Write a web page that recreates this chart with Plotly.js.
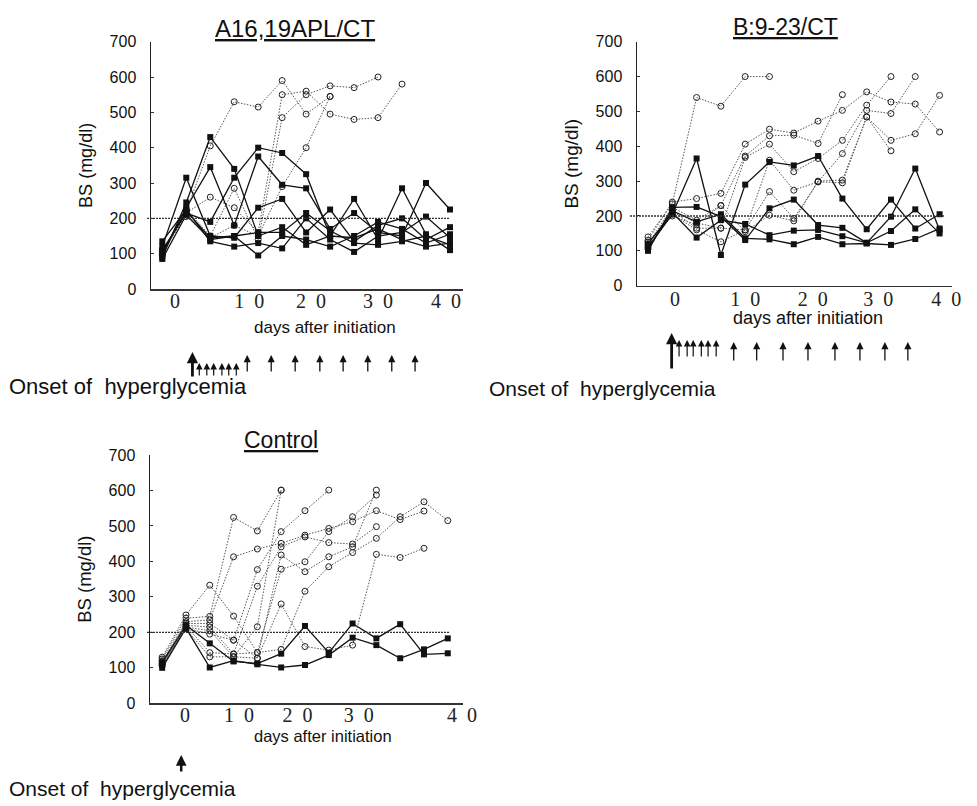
<!DOCTYPE html>
<html><head><meta charset="utf-8">
<script src="https://cdn.plot.ly/plotly-3.0.1.min.js"></script>
<style>html,body{margin:0;padding:0;background:#fff}#chart{width:977px;height:806px}</style>
</head><body><div id="chart"></div>
<script>
// ---------- data ----------
const daysA = [-2, 1.5, 5, 8.5, 12, 15.5, 19, 22.5, 26, 29.5, 33, 36.5, 40];
const daysB = [-4, -0.4, 3.2, 6.8, 10.4, 14, 17.6, 21.2, 24.8, 28.4, 32, 35.6, 39.2];
const daysC = [-3.5, 0, 3.5, 7, 10.5, 14, 17.5, 21, 24.5, 28, 31.5, 35, 38.5];

// A16,19APL/CT : non-diabetic (filled squares)
const sqA1 = [90, 245, 430, 340, 150, 175, 125, 150, 145, 170, 140, 120, 130];
const sqA2 = [100, 230, 345, 180, 375, 295, 285, 170, 215, 160, 150, 300, 225];
const sqA3 = [110, 215, 190, 315, 400, 385, 325, 150, 255, 140, 285, 155, 110];
const sqA4 = [120, 315, 150, 145, 230, 255, 160, 225, 135, 180, 200, 140, 175];
const sqA5 = [135, 225, 135, 120, 130, 115, 200, 140, 105, 150, 160, 205, 145];
const sqA6 = [85, 210, 140, 150, 95, 150, 140, 120, 150, 190, 170, 130, 155];
const sqA7 = [105, 220, 145, 150, 160, 160, 215, 165, 130, 125, 135, 150, 125];
// A16,19APL/CT : diabetic (open circles)
const ciA1 = [105, 220, 405, 530, 515, 590, 495, 545, null, null, null, null, null];
const ciA2 = [100, 215, 260, 230, 160, 550, 560, 495, 480, 485, 580, null, null];
const ciA3 = [95, 225, 150, 285, 140, 485, 550, 575, 570, 600, null, null, null];
const ciA4 = [110, 205, 145, 180, 150, 290, 400, 545, null, null, null, null, null];

// B:9-23/CT
const sqB1 = [110, 205, 365, 88, 290, 355, 345, 372, 250, 162, 247, 164, 205];
const sqB2 = [100, 225, 226, 198, 131, 222, 247, 174, 166, 123, 198, 336, 160];
const sqB3 = [120, 210, 138, 188, 177, 145, 158, 160, 142, 123, 157, 219, 150];
const sqB4 = [105, 215, 183, 205, 136, 133, 119, 140, 119, 121, 117, 134, 164];
const ciB1 = [140, 235, 540, 515, 600, 600, null, null, null, null, null, null, null];
const ciB2 = [130, 240, 250, 265, 406, 449, 438, 472, 503, 556, 527, 521, 441];
const ciB3 = [120, 225, 188, 230, 372, 430, 432, 408, 548, null, null, null, null];
const ciB4 = [115, 215, 165, 165, 368, 406, 327, 365, 417, 518, 600, null, null];
const ciB5 = [110, 205, 160, 126, 160, 360, 274, 298, 379, 503, 494, 600, null];
const ciB6 = [125, 200, 175, 230, 155, 202, 186, 300, 303, 484, 417, 436, 546];
const ciB7 = [105, 215, 180, 165, 160, 270, 193, 298, 295, 484, 387, null, null];

// Control
const sqC1 = [100, 212, 101, 120, 110, 101, 108, 136, 185, 164, 127, 152, 183];
const sqC2 = [115, 220, 169, 118, 112, 140, 218, 143, 225, 183, 223, 138, 141];
const ciC1 = [130, 249, 333, 246, 143, 152, 316, 385, 425, 465, 526, 568, 515];
const ciC2 = [125, 240, 245, 524, 486, 601, null, null, null, null, null, null, null];
const ciC3 = [120, 230, 235, 413, 435, 451, 474, 493, 512, 543, 518, 542, null];
const ciC4 = [115, 225, 225, 178, 377, 484, 543, 601, null, null, null, null, null];
const ciC5 = [110, 220, 215, 139, 330, 441, 469, 453, 449, 498, null, null, null];
const ciC6 = [118, 215, 205, 131, 216, 601, null, null, null, null, null, null, null];
const ciC7 = [112, 212, 195, 178, 127, 418, 371, 413, 441, 601, null, null, null];
const ciC8 = [108, 218, 143, 139, 143, 378, 399, 484, 526, 587, null, null, null];
const ciC9 = [105, 210, 131, 131, 127, 280, 160, 150, 164, 420, 411, 437, null];

// treatment / onset arrows (days)
const onsetA = 2.4;
const injA = [3.4, 4.5, 5.5, 6.7, 7.7, 8.8, 10.4, 13.9, 17.4, 21, 24.4, 28, 31.5, 34.9];
const onsetB = -0.5;
const injB = [0.6, 1.8, 2.7, 3.9, 4.9, 6.1, 8.7, 12.1, 16, 19.7, 23.7, 27.4, 31.1, 34.5];
const onsetC = -0.7;

// tick labels
const yTicks = [0, 100, 200, 300, 400, 500, 600, 700];
const xTickText = ['0', '1\u00a0\u00a00', '2\u00a0\u00a00', '3\u00a0\u00a00', '4\u00a0\u00a00'];
const threshold = 200;

// ---------- layout helpers ----------
const W = 977, H = 806;
const X = p => p / W;
const Y = p => 1 - p / H;

const tickPosA = [-0.15, 10.7, 19.7, 29.5, 39.4];
const tickPosB = [0, 10.4, 20.4, 30.1, 40.2];
const tickPosC = [-0.15, 7.8, 16.4, 25.4, 40.6];

function sq(days, vals, xa, ya) {
  return {type: 'scatter', mode: 'lines+markers', x: days, y: vals, xaxis: xa, yaxis: ya,
    line: {color: '#111', width: 1.3}, marker: {symbol: 'square', size: 6, color: '#111'},
    cliponaxis: false, hoverinfo: 'skip', showlegend: false};
}
function ci(days, vals, xa, ya) {
  return {type: 'scatter', mode: 'lines+markers', x: days, y: vals, xaxis: xa, yaxis: ya,
    line: {color: '#555', width: 1, dash: '1.5px,1.5px'},
    marker: {symbol: 'circle-open', size: 6, color: '#222', line: {width: 1, color: '#222'}},
    cliponaxis: false, hoverinfo: 'skip', showlegend: false};
}

const traces = [];
[ciA1, ciA2, ciA3, ciA4].forEach(s => traces.push(ci(daysA, s, 'x', 'y')));
[sqA1, sqA2, sqA3, sqA4, sqA5, sqA6, sqA7].forEach(s => traces.push(sq(daysA, s, 'x', 'y')));
[ciB1, ciB2, ciB3, ciB4, ciB5, ciB6, ciB7].forEach(s => traces.push(ci(daysB, s, 'x2', 'y2')));
[sqB1, sqB2, sqB3, sqB4].forEach(s => traces.push(sq(daysB, s, 'x2', 'y2')));
[ciC1, ciC2, ciC3, ciC4, ciC5, ciC6, ciC7, ciC8, ciC9].forEach(s => traces.push(ci(daysC, s, 'x3', 'y3')));
[sqC1, sqC2].forEach(s => traces.push(sq(daysC, s, 'x3', 'y3')));

function xAxis(dom, range, anchor, tickPos, standoff) {
  return {domain: dom, range: range, anchor: anchor, showline: true, linecolor: '#333', linewidth: 1.5,
    showgrid: false, zeroline: false, ticks: '', tickvals: tickPos, ticktext: xTickText,
    tickfont: {family: 'Liberation Serif, Times New Roman, serif', size: 20, color: '#222'},
    ticklabelstandoff: standoff, fixedrange: true};
}
function yAxis(dom, anchor, tsize) {
  return {domain: dom, range: [0, 700], anchor: anchor, showline: true, linecolor: '#222', linewidth: 1.5,
    showgrid: false, zeroline: false, ticks: 'inside', ticklen: 3, tickcolor: '#333', tickvals: yTicks,
    tickfont: {family: 'Liberation Sans, Arial, sans-serif', size: 16, color: '#111'},
    ticklabelstandoff: 10,
    title: {text: 'BS (mg/dl)', font: {family: 'Liberation Sans, Arial, sans-serif', size: tsize, color: '#111'}, standoff: 12},
    fixedrange: true};
}

const annotations = [];
function txt(text, x, y, size, opts) {
  annotations.push(Object.assign({text: text, x: X(x), y: Y(y), xref: 'paper', yref: 'paper',
    showarrow: false, xanchor: 'center', yanchor: 'middle',
    font: {family: 'Liberation Sans, Arial, sans-serif', size: size, color: '#111'}}, opts || {}));
}
txt('<u>A16,19APL/CT</u>', 295, 28.5, 24);
txt('<u>B:9-23/CT</u>', 785, 27.5, 23);
txt('<u>Control</u>', 281, 440, 23);
txt('days after initiation', 325, 327, 17);
txt('days after initiation', 808, 318, 18, {font: {family: 'Liberation Sans Narrow, Arial Narrow, Liberation Sans, sans-serif', size: 18, color: '#111'}});
txt('days after initiation', 323, 736, 16.5, {font: {family: 'Liberation Sans Narrow, Arial Narrow, Liberation Sans, sans-serif', size: 16.5, color: '#111'}});
txt('Onset of\u00a0 hyperglycemia', 7, 386, 22, {xanchor: 'left'});
txt('Onset of\u00a0 hyperglycemia', 487, 388.5, 21, {xanchor: 'left'});
txt('Onset of\u00a0 hyperglycemia', 7, 788, 21, {xanchor: 'left'});

function arrow(xref, day, tip, tail, w, s) {
  annotations.push({x: day, y: Y(tip), xref: xref, yref: 'paper', ax: 0, ay: tail - tip,
    axref: 'pixel', ayref: 'pixel', text: '', showarrow: true, arrowhead: 2,
    arrowwidth: w, arrowsize: s, arrowcolor: '#111', standoff: 0, startstandoff: 0});
}
arrow('x', onsetA, 352, 378, 2.8, 0.8);
injA.forEach((d, i) => i < 6 ? arrow('x', d, 363, 377, 1.2, 1.1) : arrow('x', d, 355, 373, 1.3, 1.1));
arrow('x2', onsetB, 333, 370, 2.8, 0.8);
injB.forEach((d, i) => i < 6 ? arrow('x2', d, 340, 358, 1.2, 1.1) : arrow('x2', d, 342, 362, 1.3, 1.1));
arrow('x3', onsetC, 755, 773, 2.5, 0.85);

const shapes = [
  {type: 'line', xref: 'paper', yref: 'y', x0: X(147), x1: X(450), y0: threshold, y1: threshold, line: {color: '#333', width: 1.3, dash: '2px,1px'}},
  {type: 'line', xref: 'paper', yref: 'y2', x0: X(630), x1: X(945), y0: threshold, y1: threshold, line: {color: '#333', width: 1.3, dash: '2px,1px'}},
  {type: 'line', xref: 'paper', yref: 'y3', x0: X(147), x1: X(449), y0: threshold, y1: threshold, line: {color: '#333', width: 1.3, dash: '2px,1px'}}
];

const layout = {
  width: W, height: H, margin: {l: 0, r: 0, t: 0, b: 0}, paper_bgcolor: '#fff', plot_bgcolor: 'rgba(0,0,0,0)',
  showlegend: false, hovermode: false,
  xaxis: xAxis([X(151), X(463)], [-3.65, 41.9], 'y', tickPosA, -7),
  yaxis: yAxis([Y(289), Y(41.7)], 'x', 18),
  xaxis2: xAxis([X(637), X(952)], [-5.63, 41.04], 'y2', tickPosB, -5),
  yaxis2: yAxis([Y(285.7), Y(41.7)], 'x2', 19),
  xaxis3: xAxis([X(150), X(463)], [-5.29, 40.74], 'y3', tickPosC, -7),
  yaxis3: yAxis([Y(703.3), Y(455)], 'x3', 18.5),
  annotations: annotations, shapes: shapes
};

Plotly.newPlot('chart', traces, layout, {displayModeBar: false, staticPlot: true});
</script></body></html>
